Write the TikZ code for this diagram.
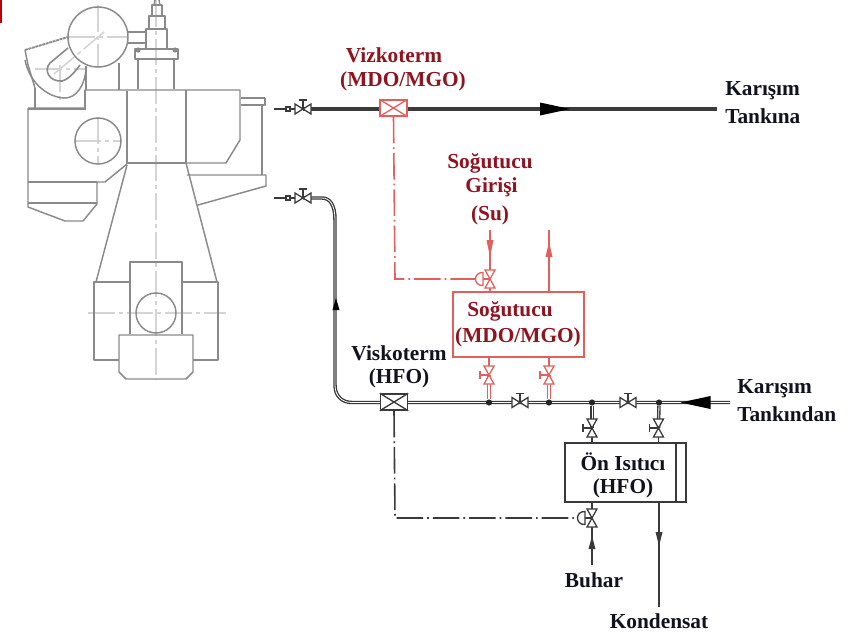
\documentclass[tikz,border=0pt]{standalone}
\usepackage{fontspec}
\setmainfont{Liberation Serif}
\definecolor{enginegray}{HTML}{8A8A8A}
\definecolor{centergray}{HTML}{D4D4D4}
\definecolor{linered}{HTML}{E2605C}
\definecolor{textred}{HTML}{8E1420}
\definecolor{textdark}{HTML}{10121E}
\definecolor{pipedark}{HTML}{3A3A3A}
\tikzset{
  x=0.75pt,y=-0.75pt,
  engine/.style={draw=enginegray,line width=1.1pt,line join=round},
  enginethick/.style={draw=enginegray,line width=1.7pt},
  centerline/.style={draw=centergray,line width=0.8pt,dash pattern=on 20pt off 3pt on 3pt off 3pt},
  lbl/.style={font=\fontsize{16}{18}\selectfont\bfseries,inner sep=0pt,text=textdark},
  lblred/.style={lbl,text=textred},
  thinline/.style={draw=pipedark,line width=1pt},
  redline/.style={draw=linered,line width=1.1pt},
  toppipe/.style={draw=pipedark,line width=2.8pt},
  dblpipe/.style={draw=pipedark,line width=1pt,double=white,double distance=0.6pt},
  reddbl/.style={draw=linered,line width=0.9pt,double=white,double distance=1pt},
  signal/.style={draw=pipedark,line width=1.2pt,dash pattern=on 20pt off 3pt on 1.2pt off 3pt},
  signalred/.style={draw=linered,line width=1.2pt,dash pattern=on 20pt off 3pt on 1.2pt off 3pt},
  boxdark/.style={draw=pipedark,line width=1.3pt,fill=white,minimum width=121*0.75pt,minimum height=59*0.75pt,inner sep=0pt},
  boxred/.style={draw=linered,line width=1.3pt,fill=white,minimum width=131*0.75pt,minimum height=65*0.75pt,inner sep=0pt},
  viscobox/.style={line width=1.1pt,fill=white,minimum width=27*0.75pt,minimum height=16*0.75pt,inner sep=0pt},
  junction/.style={circle,fill=black!85,inner sep=0pt,minimum size=4.4pt},
  pics/hvalve/.style={code={
    \draw[pic actions,fill=white,line width=0.95pt] (-8,-5)--(8,5)--(8,-5)--(-8,5)--cycle;
    \draw[pic actions,line width=1pt] (0,0)--(0,-9) (-4,-9)--(4,-9);
  }},
  pics/vvalve/.style={code={
    \draw[pic actions,fill=white,line width=0.95pt] (-5,-9)--(5,9)--(-5,9)--(5,-9)--cycle;
    \draw[pic actions,line width=1pt] (0,0)--(-9,0) (-9,-4)--(-9,4);
  }},
  pics/actvalve/.style={code={
    \draw[pic actions,fill=white,line width=0.95pt] (-5,-9)--(5,9)--(-5,9)--(5,-9)--cycle;
    \draw[pic actions,line width=1pt] (0,0)--(-7,0);
    \draw[pic actions,fill=white,line width=1pt] (-7,-6.5) .. controls (-17,-7) and (-17,7) .. (-7,6.5)--cycle;
  }},
  pics/tip/.style={code={
    \fill[pic actions] (-6,-3.5)--(6,0)--(-6,3.5)--cycle;
  }},
  pics/bigtip/.style={code={
    \fill[pic actions] (-15,-6.5)--(-15,6.5)--(15,0)--cycle;
  }},
}
\begin{document}
\begin{tikzpicture}
\useasboundingbox (0,0) rectangle (864,636);
\fill[white] (0,0) rectangle (864,636);
\fill[red!75!black] (0,0) rectangle (2,23);

% ---------- engine ----------
\draw[centerline] (156,0)--(156,380);
\draw[centerline] (88,313)--(226,313);
\draw[centerline] (98,117)--(98,165) (74,141)--(122,141);
\draw[centerline] (98,5)--(98,68) (68,37)--(128,37);
\draw[centerline,line width=1.2pt] (54,74)--(104,32);
\draw[centerline] (60,65)--(60,100) (35,69)--(85,69);
\draw[engine] (98,37) circle[radius=30];
\draw[engine] (98,141) circle[radius=23];
\draw[engine] (156,313) circle[radius=20];
% turbocharger
\draw[engine,line width=1.4pt,dash pattern=on 2.2pt off 0.5pt] (25,50)--(68,37);
\draw[engine] (25,50)--(28,65)--(35,88);
\draw[engine] (25,60) .. controls (30,85) and (50,98) .. (65,98) .. controls (76,98) and (85,86) .. (86,68);
\draw[engine,line width=1.2pt] (68,48)--(50,63) .. controls (43,71) and (50,82) .. (62,81) .. controls (70,79) and (76,70) .. (80,65);
\draw[engine] (35,88)--(35,108);
\draw[engine] (86,66)--(86,90) (119,63)--(119,90);
\draw[engine] (127,32)--(146,32) (127,43)--(146,43);
% cylinder head stack
\draw[engine] (138,89)--(138,59) (174,89)--(174,59);
\draw[engine] (135,49) rectangle (178,59);
\fill[enginegray] (138,50) circle[radius=2.6] (175,50) circle[radius=2.6];
\draw[engine] (146,49)--(146,29)--(167,29)--(167,49);
\draw[engine] (149,29)--(149,16)--(165,16)--(165,29);
\draw[engine] (152,16)--(152,5)--(162,5)--(162,16);
\draw[engine] (154,5)--(155,0) (160,5)--(159,0);
% main body
\draw[engine] (28,108)--(85,108)--(85,90)--(240,90)--(240,140)--(226,163)--(127,163);
\draw[enginethick] (28,109)--(85,109)--(85,90);
\draw[engine] (28,108)--(28,207)--(65,221)--(83,221)--(97,204)--(97,182)--(105,182)--(127,164);
\draw[engine] (28,182)--(97,182);
\draw[enginethick] (28,203)--(97,203);
\draw[enginethick] (127,91)--(127,163)--(186,163);
\draw[engine] (186,90)--(186,163);
\draw[enginethick] (241,98)--(265,98);
\draw[engine] (265,98)--(265,105)--(241,105);
\draw[enginethick] (262,105)--(262,175);
\draw[engine] (187,175)--(266,175)--(266,186)--(198,205);
\draw[engine] (186,163)--(217,282);
\draw[engine] (127,165)--(96,282);
\draw[engine] (130,282)--(94,282)--(94,360)--(119,360);
\draw[engine] (182,282)--(218,282)--(218,360)--(193,360);
\draw[engine] (130,334)--(130,262)--(182,262)--(182,334);
\draw[engine] (119,335)--(193,335)--(193,372)--(186,379)--(126,379)--(119,372)--cycle;

% ---------- named points ----------
\coordinate (topIn) at (274,109);
\coordinate (topV) at (303,109);
\coordinate (topEnd) at (717,109);
\coordinate (lowIn) at (274,198);
\coordinate (lowV) at (303,198);
\coordinate (lowEnd) at (730,402.5);
\coordinate (bendA) at (335,220);
\coordinate (su) at (490,230);
\coordinate (suOut) at (549,230);
\coordinate (vSu) at (490,279);
\coordinate (vC1) at (489,375);
\coordinate (vC2) at (549,375);
\coordinate (vH1) at (592,428);
\coordinate (vH2) at (658.5,428);
\coordinate (buharIn) at (592,565);
\coordinate (kondOut) at (659,607);
\coordinate (vBuhar) at (592,518);

% ---------- top pipe ----------
\draw[thinline] (topIn)--(topV);
\draw[toppipe] (topV)--(topEnd);
\node[viscobox,draw=linered] (vizko) at (393.5,108) {};
\draw[linered,line width=0.95pt] (vizko.north west)--(vizko.south east) (vizko.north east)--(vizko.south west);
\pic[fill=black] at (555,109) {bigtip};
\draw[thinline,fill=white] (286,107) rectangle (290,111);
\pic[draw=pipedark] at (topV) {hvalve};

% ---------- lower pipe ----------
\draw[thinline] (lowIn)--(lowV);
\draw[dblpipe] (lowV)--(322,198) .. controls (330,198) and (335,205) .. (bendA)
  -- (335,385) .. controls (335,396) and (342,402.5) .. (352,402.5) -- (lowEnd);
\node[viscobox,draw=pipedark] (visko) at (394,402) {};
\draw[pipedark,line width=1pt] (visko.north west)--(visko.south east) (visko.north east)--(visko.south west);
\pic[rotate=90,fill=black] at (336,304) {tip};
\draw[thinline,fill=white] (286,196) rectangle (290,200);
\pic[draw=pipedark] at (lowV) {hvalve};
\pic[rotate=180,fill=black] at (695.5,402.5) {bigtip};
\pic[draw=pipedark] at (520,402.5) {hvalve};
\pic[draw=pipedark] at (628,402.5) {hvalve};

\node[junction] (j1) at (489,402.5) {};
\node[junction] (j2) at (549,402.5) {};
\node[junction] (j3) at (592,402.5) {};
\node[junction] (j4) at (659,402.5) {};

% ---------- red branches ----------
\node[boxred] (cooler) at (518.5,324.5) {};
\draw[redline] (su)--(cooler.north -| su);
\draw[redline] (suOut)--(cooler.north -| suOut);
\draw[redline] (cooler.south -| vC1)--(vC1);
\draw[redline] (cooler.south -| vC2)--(vC2);
\draw[reddbl] (vC1)--(j1);
\draw[reddbl] (vC2)--(j2);
\draw[signalred] (vizko.south)--(395,279)--(vSu);
\pic[draw=linered] at (vSu) {actvalve};
\pic[draw=linered] at (vC1) {vvalve};
\pic[draw=linered] at (vC2) {vvalve};
\fill[linered] (486.5,240)--(493.5,240)--(490,257)--cycle;
\fill[linered] (545.5,257)--(552.5,257)--(549,242)--cycle;
\node[junction] at (j1) {};
\node[junction] at (j2) {};

% ---------- heater ----------
\node[boxdark] (heater) at (625.5,472.5) {};
\coordinate (heaterLine) at (676,443);
\draw[dblpipe] (j3)--(vH1);
\draw[dblpipe] (j4)--(vH2);
\draw[thinline] (vH1)--(heater.north -| vH1);
\draw[thinline] (vH2)--(heater.north -| vH2);
\pic[draw=pipedark] at (vH1) {vvalve};
\pic[draw=pipedark] at (vH2) {vvalve};
\node[junction] at (j3) {};
\node[junction] at (j4) {};
\draw[thinline] (heaterLine)--(heaterLine |- heater.south);
\draw[signal] (visko.south)--(395,518)--(vBuhar);
\draw[thinline] (buharIn)--(heater.south -| buharIn);
\draw[thinline] (kondOut)--(heater.south -| kondOut);
\pic[draw=pipedark] at (vBuhar) {actvalve};
\fill[pipedark] (588.5,549)--(595.5,549)--(592,536)--cycle;
\fill[pipedark] (655.5,532)--(662.5,532)--(659,546)--cycle;

% ---------- labels ----------
\node[lblred] (t1) at (394,55) {Vizkoterm};
\node[lblred] (t2) at (403,81) {(MDO/MGO)};
\node[lblred] (t3) at (490,163) {Soğutucu};
\node[lblred] (t4) at (491.5,187) {Girişi};
\node[lblred] (t5) at (490,215) {(Su)};
\node[lblred] (t6) at (510,311) {Soğutucu};
\node[lblred] (t7) at (518,337) {(MDO/MGO)};
\node[lbl] (t8) at (399,353) {Viskoterm};
\node[lbl] (t9) at (399,378) {(HFO)};
\node[lbl,anchor=west] (t10) at (725,91) {Karışım};
\node[lbl,anchor=west] (t11) at (725,116) {Tankına};
\node[lbl,anchor=west] (t12) at (737,389) {Karışım};
\node[lbl,anchor=west] (t13) at (737,414) {Tankından};
\node[lbl] (t14) at (623,462) {Ön Isıtıcı};
\node[lbl] (t15) at (623,488) {(HFO)};
\node[lbl] (t16) at (594,580) {Buhar};
\node[lbl] (t17) at (659,621) {Kondensat};
\end{tikzpicture}
\end{document}
